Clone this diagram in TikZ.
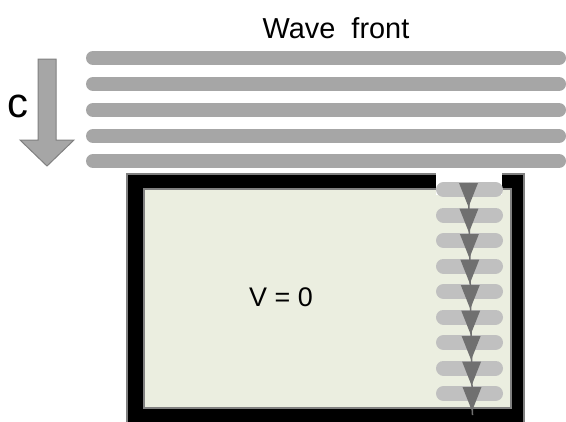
\documentclass[tikz,border=0pt]{standalone}
\usepackage{fontspec}
\setmainfont{Liberation Sans}
\usepackage{tikz}
\definecolor{wavegray}{RGB}{166,166,166}
\definecolor{edgegray}{RGB}{128,128,128}
\definecolor{pillgray}{RGB}{192,192,192}
\definecolor{tipgray}{RGB}{112,112,112}
\definecolor{wellfill}{RGB}{235,238,224}
\tikzset{
 wave/.style
  = {draw=wavegray, line width=14bp, line cap=round},
 pill/.style
  = {draw=pillgray, line width=15bp, line cap=round},
 wall/.style
  = {draw=edgegray, line width=1.5bp},
 tip/.style
  = {fill=tipgray},
 lbl/.style
  = {inner sep=0pt, text=black},
}

\begin{document}
\begin{tikzpicture}[x=1bp, y=-1bp]
\useasboundingbox (0,0) rectangle (566,421);

% Wave front label
\node[lbl, font=\fontsize{29}{34}\selectfont] (wf) at (336,28) {Wave\ \ front};

% Wave front lines
\foreach \y in {58,84,110,136,161}
  \draw[wave] (93,\y) -- (559,\y);

% Propagation arrow
\draw[wall, fill=wavegray, line width=1bp]
  (38,59) -- (56,59) -- (56,140) -- (74,140) -- (47,166)
  -- (20,140) -- (38,140) -- cycle;
\node[lbl, font=\fontsize{42}{46}\selectfont] (c) at (18,106.5) {c};

% Region with V = 0
\draw[wall, fill=black] (127,174) rectangle (524,430);
\draw[wall, fill=wellfill] (144,189) rectangle (511,408);
\node[lbl, font=\fontsize{27}{31}\selectfont] (v) at (281,297) {V = 0};

% Opening in the wall
\fill[white] (436,173) rectangle (502,195);

% Wave fronts inside
\foreach \k in {0,...,8}
  \draw[pill] (443.5,{189.5+25.5*\k}) -- (495.5,{189.5+25.5*\k});

% Downward arrows
\draw[tipgray, line width=1.5bp] (468.5,183) -- (472.5,415);
\foreach \k in {0,...,8}
  \fill[tip] ({459+0.44*\k},{183+25.5*\k}) -- ++(19,0) -- ++(-9.5,24) -- cycle;

\end{tikzpicture}
\end{document}
